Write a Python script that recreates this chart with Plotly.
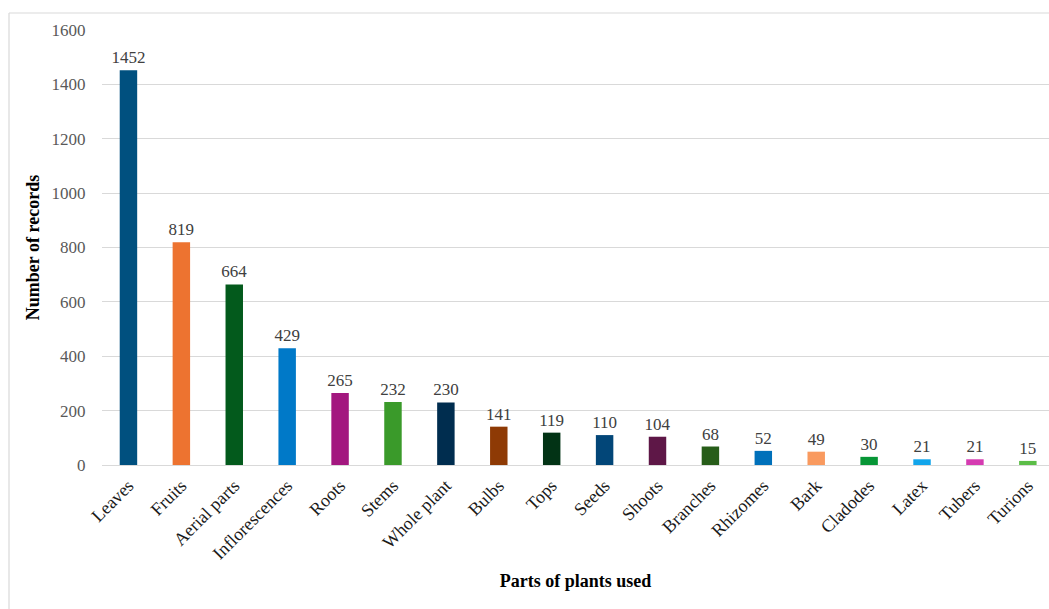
import plotly.graph_objects as go

categories = ["Leaves", "Fruits", "Aerial parts", "Inflorescences", "Roots", "Stems",
              "Whole plant", "Bulbs", "Tops", "Seeds", "Shoots", "Branches", "Rhizomes",
              "Bark", "Cladodes", "Latex", "Tubers", "Turions"]
values = [1452, 819, 664, 429, 265, 232, 230, 141, 119, 110, 104, 68, 52, 49, 30, 21, 21, 15]
colors = ["#00507F", "#ED7330", "#035A1C", "#0079C8", "#A3177F", "#3A9A2A",
          "#002D4F", "#8E3A05", "#023315", "#024678", "#5E1747", "#275D19",
          "#0070BA", "#F99A5F", "#079636", "#12A5EB", "#D53BB1", "#5BBD47"]
y_ticks = [0, 200, 400, 600, 800, 1000, 1200, 1400, 1600]

W, H = 1049, 609
L, R, T, B = 102, 0, 30, 144
pw, ph = W - L - R, H - T - B

def px_x(px):
    return (px - L) / pw

def px_y(py):
    return (H - B - py) / ph

fig = go.Figure(go.Bar(
    x=categories, y=values,
    marker=dict(color=colors, line=dict(width=0)),
    width=0.33,
    text=[str(v) for v in values],
    textposition="outside",
    constraintext="none",
    cliponaxis=False,
    textfont=dict(family="Liberation Serif", size=17, color="#404040"),
))

fig.update_layout(
    width=W, height=H,
    margin=dict(l=L, r=R, t=T, b=B),
    paper_bgcolor="white", plot_bgcolor="white",
    showlegend=False,
    font=dict(family="Liberation Serif", color="#404040"),
    xaxis=dict(
        range=[-0.5, len(categories) - 0.6],
        tickangle=-45,
        tickfont=dict(family="Liberation Serif", size=18, color="#1a1a1a"),
        showgrid=False, showline=False,
        ticks="outside", ticklen=2, tickcolor="rgba(0,0,0,0)",
        title=dict(text="<b>Parts of plants used</b>",
                   font=dict(family="Liberation Serif", size=18, color="black"),
                   standoff=12),
    ),
    yaxis=dict(
        range=[0, 1600],
        tickvals=y_ticks,
        tickfont=dict(family="Liberation Serif", size=17, color="#595959"),
        showgrid=True, gridcolor="#d9d9d9", gridwidth=1,
        zeroline=True, zerolinecolor="#d9d9d9", zerolinewidth=1,
        ticks="outside", ticklen=12, tickcolor="rgba(0,0,0,0)",
        title=dict(text="<b>Number of records</b>",
                   font=dict(family="Liberation Serif", size=18, color="black"),
                   standoff=7),
    ),
    shapes=[
        dict(type="line", xref="paper", yref="paper",
             x0=px_x(9), x1=px_x(9), y0=px_y(13), y1=px_y(H + 5),
             line=dict(color="#d9d9d9", width=1.2)),
        dict(type="line", xref="paper", yref="paper",
             x0=px_x(9), x1=px_x(W + 5), y0=px_y(13), y1=px_y(13),
             line=dict(color="#d9d9d9", width=1.2)),
    ],
)

fig.write_html("out.html")
